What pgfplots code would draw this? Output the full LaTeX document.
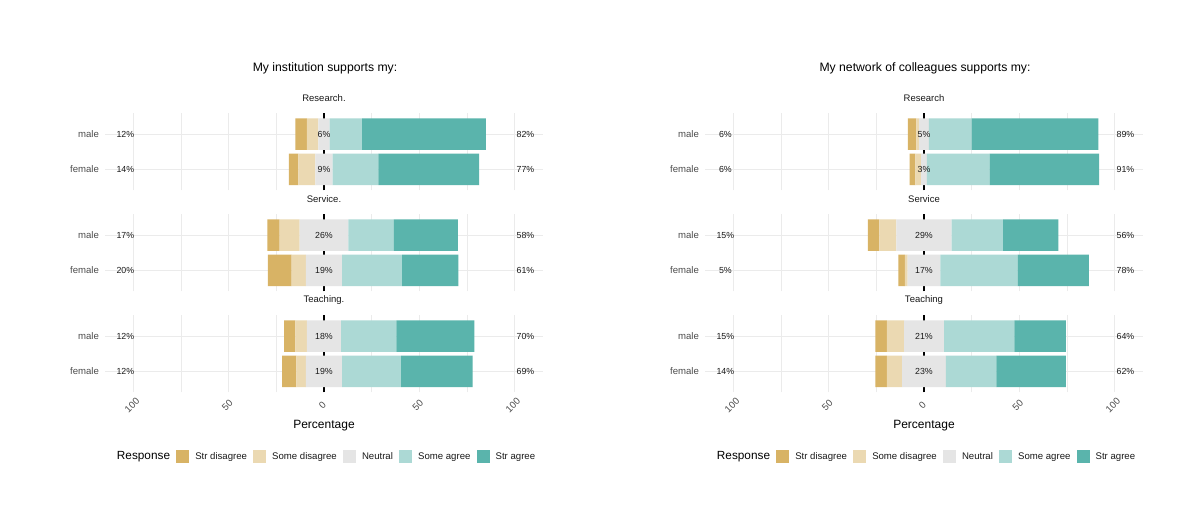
\documentclass[border=0pt]{standalone}
\usepackage{pgfplots}
\pgfplotsset{compat=1.18}
\usepackage{pgfplotstable}
\usepackage{fontspec}
\setmainfont{Liberation Sans}
\definecolor{csd}{HTML}{D8B365}
\definecolor{csod}{HTML}{EBD9B2}
\definecolor{cneu}{HTML}{E5E5E5}
\definecolor{csa}{HTML}{ACD9D5}
\definecolor{csta}{HTML}{5AB4AC}
\definecolor{cgrid}{HTML}{EBEBEB}
\definecolor{g30}{HTML}{4D4D4D}
\definecolor{g10}{HTML}{1A1A1A}
\newcommand{\fs}[1]{\fontsize{#1}{#1}\selectfont}

% Left panel: My institution supports my
\pgfplotstableread{
y sd sod neu sa sta
1 6 6 6 17 65
0 5 9 9 24 53
}\LR
\pgfplotstableread{
y sd sod neu sa sta
1 6.5 10.5 25.5 24 33.5
0 12.5 7.5 19 31.5 29.5
}\LS
\pgfplotstableread{
y sd sod neu sa sta
1 6 6 18 29 41
0 7.5 5 19 31 37.5
}\LT
% Right panel: My network of colleagues supports my
\pgfplotstableread{
y sd sod neu sa sta
1 4.5 1.5 5 22.5 66.5
0 3 3 3 33 57.5
}\RR
\pgfplotstableread{
y sd sod neu sa sta
1 6 9 29 27 29
0 3.3 1.5 17.2 40.6 37.4
}\RS
\pgfplotstableread{
y sd sod neu sa sta
1 6 9 21 37 27
0 6 8 23 26.5 36.5
}\RT

\newcommand{\bars}[1]{%
  \draw[black, line width=1.5pt] (axis cs:0,-0.6) -- (axis cs:0,1.6);
  \addplot[draw=none, fill=none] table[x expr={-(\thisrow{sd}+\thisrow{sod}+0.5*\thisrow{neu})}, y=y] {#1};
  \addplot[fill=csd, draw=none] table[x=sd, y=y] {#1};
  \addplot[fill=csod, draw=none] table[x=sod, y=y] {#1};
  \addplot[fill=cneu, draw=none] table[x=neu, y=y] {#1};
  \addplot[fill=csa, draw=none] table[x=sa, y=y] {#1};
  \addplot[fill=csta, draw=none] table[x=sta, y=y] {#1};
}
\newcommand{\labs}[6]{%
  \node[font=\fs{8.8}, text=g10] at (axis cs:-104.3,1) {#1};
  \node[font=\fs{8.8}, text=g10] at (axis cs:-104.3,0) {#2};
  \node[font=\fs{8.8}, text=g10] at (axis cs:0,1) {#3};
  \node[font=\fs{8.8}, text=g10] at (axis cs:0,0) {#4};
  \node[font=\fs{8.8}, text=g10] at (axis cs:105.8,1) {#5};
  \node[font=\fs{8.8}, text=g10] at (axis cs:105.8,0) {#6};
}
\newcommand{\leg}{%
  \addlegendimage{empty legend}
  \addlegendimage{fill=csd, draw=none}
  \addlegendimage{fill=csod, draw=none}
  \addlegendimage{fill=cneu, draw=none}
  \addlegendimage{fill=csa, draw=none}
  \addlegendimage{fill=csta, draw=none}
}

\pgfplotsset{
  facet/.style={
    xbar stacked, stack negative=on previous, reverse stacked plots=false, bar width=0.9,
    scale only axis, width=438pt, height=77.5pt, anchor=north west,
    xmin=-115, xmax=115, ymin=-0.6, ymax=1.6, enlargelimits=false,
    xtick={-100,-50,0,50,100}, minor xtick={-75,-25,25,75},
    ytick={0,1}, yticklabels={female,male}, xticklabels={},
    grid=both,
    major grid style={draw=cgrid, line width=0.9pt},
    minor grid style={draw=cgrid, line width=0.45pt},
    major tick length=0pt, minor tick length=0pt,
    axis line style={draw=none},
    yticklabel style={font=\fs{9.6}, text=g30, xshift=-2.5pt},
    title style={font=\fs{9.5}, text=g10, at={(0.5,1)}, anchor=center, yshift=8.7pt, inner sep=0pt},
    /pgf/number format/assume math mode=true,
    legend image code/.code={\fill[##1] (0pt,-6.5pt) rectangle (13pt,6.5pt);},
  },
  bottom/.style={
    xticklabels={100,50,0,50,100},
    xticklabel style={font=\fs{9.6}, text=g30, yshift=-13pt, xshift=-1.5pt, rotate=45, anchor=center},
    xlabel={Percentage},
    xlabel style={at={(axis description cs:0.5,0)}, anchor=center, yshift=-33pt, font=\fs{12}, text=black},
    legend style={at={(0.5,-0.828)}, anchor=center, draw=none, fill=none,
      legend columns=-1, font=\fs{9.6}, text=g10,
      /tikz/every odd column/.append style={column sep=4.1pt},
      /tikz/every even column/.append style={column sep=4.1pt}},
  },
}

\begin{document}
\begin{tikzpicture}
\fill[white] (0,0) rectangle (1200pt,519pt);
\useasboundingbox (0,0) rectangle (1200pt,519pt);

\node[font=\fs{12.2}, text=black] at (325pt,451pt) {My institution supports my:};
\node[font=\fs{12.2}, text=black] at (925pt,451pt) {My network of colleagues supports my:};

% ---------- Left panel ----------
\begin{axis}[facet, at={(105pt,406pt)}, title={Research.}]
  \bars{\LR}
  \labs{12\%}{14\%}{6\%}{9\%}{82\%}{77\%}
\end{axis}
\begin{axis}[facet, at={(105pt,305pt)}, title={Service.}]
  \bars{\LS}
  \labs{17\%}{20\%}{26\%}{19\%}{58\%}{61\%}
\end{axis}
\begin{axis}[facet, bottom, at={(105pt,204pt)}, title={Teaching.}]
  \leg
  \bars{\LT}
  \labs{12\%}{12\%}{18\%}{19\%}{70\%}{69\%}
  \legend{{\fs{11.8}\color{black}Response},Str disagree,Some disagree,Neutral,Some agree,Str agree}
\end{axis}

% ---------- Right panel ----------
\begin{axis}[facet, at={(705pt,406pt)}, title={Research}]
  \bars{\RR}
  \labs{6\%}{6\%}{5\%}{3\%}{89\%}{91\%}
\end{axis}
\begin{axis}[facet, at={(705pt,305pt)}, title={Service}]
  \bars{\RS}
  \labs{15\%}{5\%}{29\%}{17\%}{56\%}{78\%}
\end{axis}
\begin{axis}[facet, bottom, at={(705pt,204pt)}, title={Teaching}]
  \leg
  \bars{\RT}
  \labs{15\%}{14\%}{21\%}{23\%}{64\%}{62\%}
  \legend{{\fs{11.8}\color{black}Response},Str disagree,Some disagree,Neutral,Some agree,Str agree}
\end{axis}
\end{tikzpicture}
\end{document}
